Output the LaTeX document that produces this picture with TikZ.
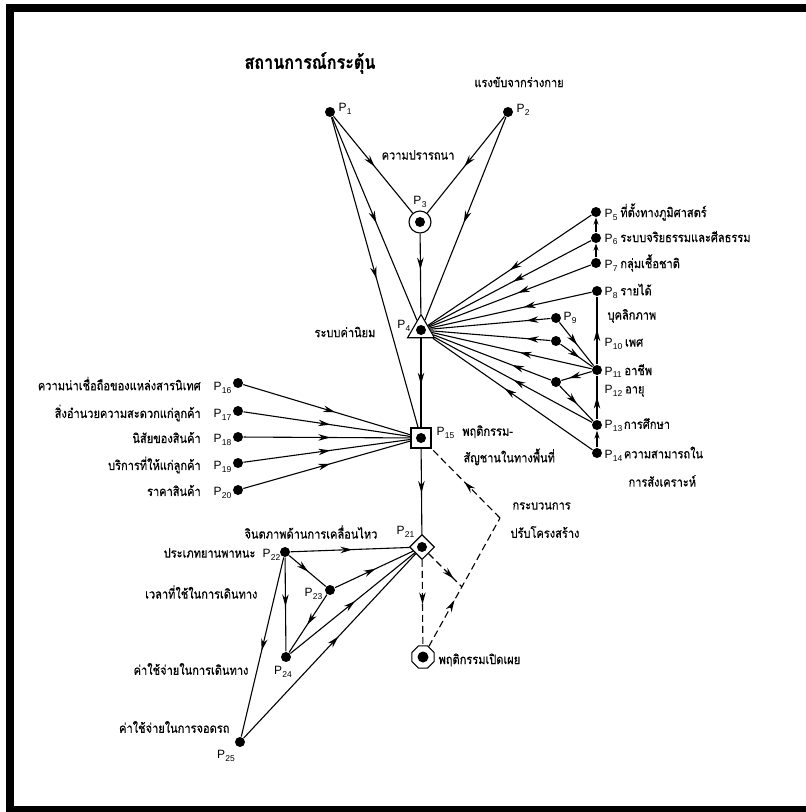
\documentclass[tikz,border=0pt]{standalone}
\usepackage{fontspec}
\setmainfont{Liberation Sans}
\newfontfamily\thai[Script=Thai,FakeStretch=0.85,FakeBold=0.6]{Loma}
\usetikzlibrary{shapes.geometric,arrows.meta,decorations.markings}

\newcommand\pn[1]{{\rmfamily\fontsize{12}{14}\selectfont P\kern.3pt\raisebox{-0.45ex}{\fontsize{8.5}{9}\selectfont #1}}}
\newcommand\thtext[1]{{\thai\fontsize{13}{15}\selectfont #1}}

\begin{document}
\begin{tikzpicture}[x=1pt,y=-1pt,line width=1.1pt,
  dot/.style={circle,fill,inner sep=0pt,minimum size=10pt},
  hole/.style={draw,inner sep=0pt},
  tx/.style={inner sep=0pt,font=\thai\fontsize{13}{15}\selectfont},
  pl/.style={inner sep=0pt},
  flow/.style={postaction={decorate},decoration={markings,
      mark=at position #1 with {\arrow{Stealth[length=12pt,width=6.5pt]}}}},
  flow/.default=0.52,
  feed/.style={dash pattern=on 7pt off 4pt}]

  % frame round the figure
  \useasboundingbox (0,0) rectangle (806,812);
  \draw[line width=8pt] (10,8) rectangle (816,810);

  % stimuli, drives and desire:
  \node[tx,font=\thai\bfseries\fontsize{19}{21}\selectfont] (title) at (310,63) {สถานการณ์กระตุ้น};
  \node[tx] (drive) at (519,82) {แรงขับจากร่างกาย};
  \node[dot] (p1) at (330,112) {};
  \node[dot] (p2) at (508,112) {};
  \node[pl,anchor=west] (p1l) at (338,109) {\pn{1}};
  \node[pl,anchor=west] (p2l) at (516,110) {\pn{2}};
  \node[tx] (desire) at (418,155) {ความปรารถนา};

  \node[hole,circle,minimum size=22pt] (p3) at (420,222) {};
  \fill (p3.center) circle (5pt);
  \node[pl] (p3l) at (420,202) {\pn{3}};

  % value system:
  \node[hole,regular polygon,regular polygon sides=3,minimum size=31pt] (p4) at (421,330) {};
  \fill (p4.center) circle (5pt);
  \node[pl,anchor=east] (p4l) at (411,326) {\pn{4}};
  \node[tx] (values) at (345,332) {ระบบค่านิยม};

  % spatial cognitive behaviour:
  \node[hole,rectangle,minimum size=20pt] (p15) at (421,438) {};
  \fill (p15.center) circle (5pt);
  \node[pl,anchor=west] (p15l) at (436,432) {\pn{15}\hspace{8pt}\thtext{พฤติกรรม-}};
  \node[tx,anchor=west] (p15m) at (463,457) {สัญชานในทางพื้นที่};

  % personal factors on the right
  \node[dot] (p5) at (596,212) {};
  \node[dot] (p6) at (596,238) {};
  \node[dot] (p7) at (596,263) {};
  \node[dot] (p8) at (597,291) {};
  \node[dot] (p9) at (556,318) {};
  \node[dot] (q1) at (556,341) {};
  \node[dot] (p11) at (597,370) {};
  \node[dot] (q2) at (556,382) {};
  \node[dot] (p13) at (597,425) {};
  \node[dot] (p14) at (597,453) {};

  \node[pl,anchor=west] (p5l) at (604,212) {\pn{5}\ \thtext{ที่ตั้งทางภูมิศาสตร์}};
  \node[pl,anchor=west] (p6l) at (604,238) {\pn{6}\ \thtext{ระบบจริยธรรมและศีลธรรม}};
  \node[pl,anchor=west] (p7l) at (604,263) {\pn{7}\ \thtext{กลุ่มเชื้อชาติ}};
  \node[pl,anchor=west] (p8l) at (604,291) {\pn{8}\ \thtext{รายได้}};
  \node[pl,anchor=west] (p9l) at (563,318) {\pn{9}};
  \node[tx,anchor=west] (pers) at (607,316) {บุคลิกภาพ};
  \node[pl,anchor=west] (p10l) at (604,344) {\pn{10}\ \thtext{เพศ}};
  \node[pl,anchor=west] (p11l) at (604,371) {\pn{11}\ \thtext{อาชีพ}};
  \node[pl,anchor=west] (p12l) at (604,391) {\pn{12}\ \thtext{อายุ}};
  \node[pl,anchor=west] (p13l) at (604,425) {\pn{13}\,\thtext{การศึกษา}};
  \node[pl,anchor=west] (p14l) at (604,454) {\pn{14}\,\thtext{ความสามารถใน}};
  \node[tx,anchor=west] (synth) at (628,481) {การสังเคราะห์};

  \draw[flow=0.5] (p5) -- (p4);
  \draw[flow=0.48] (p6) -- (p4);
  \draw[flow=0.45] (p7) -- (p4);
  \draw[flow=0.42] (p8) -- (p4);
  \draw[flow=0.2] (p9) -- (p4);
  \draw[flow=0.2] (q1) -- (p4);
  \draw[flow=0.45] (p11) -- (p4);
  \draw[flow=0.33] (q2) -- (p4);
  \draw[flow=0.5] (p13) -- (p4);
  \draw[flow=0.55] (p14) -- (p4);

  \draw[-{Stealth[length=7pt,width=5pt]}] (p6) -- (p5);
  \draw[-{Stealth[length=7pt,width=5pt]}] (p7) -- (p6);
  \draw[flow] (p11) -- (p8);
  \draw[flow] (p13) -- (p11);
  \draw[-{Stealth[length=8pt,width=5pt]}] (p14) -- (p13);
  \draw[flow] (p9) -- (p11);
  \draw[flow=0.6] (q1) -- (p11);
  \draw[flow=0.75] (p11) -- (q2);
  \draw[flow] (q2) -- (p13);

  % arrows from the top
  \draw[flow] (p1) -- (p3);
  \draw[flow] (p2) -- (p3);
  \draw[flow] (p1) -- (p4);
  \draw[flow] (p2) -- (p4);
  \draw[flow=0.45] (p3) -- (p4);
  \draw[flow] (p1) -- (p15);

  % situational factors on the left
  \node[dot] (p16) at (238,383) {};
  \node[dot] (p17) at (238,411) {};
  \node[dot] (p18) at (238,437) {};
  \node[dot] (p19) at (238,463) {};
  \node[dot] (p20) at (238,490) {};
  \node[tx,anchor=east] (p16l) at (232,385) {ความน่าเชื่อถือของแหล่งสารนิเทศ\hspace{13pt}\pn{16}};
  \node[tx,anchor=east] (p17l) at (232,413) {สิ่งอำนวยความสะดวกแก่ลูกค้า\hspace{13pt}\pn{17}};
  \node[tx,anchor=east] (p18l) at (232,439) {นิสัยของสินค้า\hspace{13pt}\pn{18}};
  \node[tx,anchor=east] (p19l) at (232,465) {บริการที่ให้แก่ลูกค้า\hspace{13pt}\pn{19}};
  \node[tx,anchor=east] (p20l) at (232,492) {ราคาสินค้า\hspace{13pt}\pn{20}};

  \draw[flow=0.55] (p16) -- (p15);
  \draw[flow=0.52] (p17) -- (p15);
  \draw[flow=0.52] (p18) -- (p15);
  \draw[flow=0.52] (p19) -- (p15);
  \draw[flow=0.52] (p20) -- (p15);
  \draw[flow] (p4) -- (p15);

  % mobility image and travel factors
  \node[hole,diamond,minimum size=25pt] (p21) at (422,547) {};
  \fill (p21.center) circle (5pt);
  \node[pl,anchor=west] (p21l) at (396,532) {\pn{21}};
  \node[tx,anchor=east] (image) at (378,532) {จินตภาพด้านการเคลื่อนไหว};
  \draw[flow] (p15) -- (p21);

  \node[dot] (p22) at (285,552) {};
  \node[dot] (p23) at (330,590) {};
  \node[dot] (p24) at (286,657) {};
  \node[dot] (p25) at (240,742) {};
  \node[pl,anchor=east] (p22l) at (281,555) {\pn{22}};
  \node[pl,anchor=east] (p23l) at (323,594) {\pn{23}};
  \node[pl] (p24l) at (283,672) {\pn{24}};
  \node[pl] (p25l) at (226,756) {\pn{25}};
  \node[tx,anchor=east] (vehicle) at (256,553) {ประเภทยานพาหนะ};
  \node[tx,anchor=east] (time) at (258,592) {เวลาที่ใช้ในการเดินทาง};
  \node[tx,anchor=east] (cost) at (249,669) {ค่าใช้จ่ายในการเดินทาง};
  \node[tx,anchor=east] (park) at (230,727) {ค่าใช้จ่ายในการจอดรถ};

  \draw[flow] (p22) -- (p21);
  \draw[flow] (p22) -- (p23);
  \draw[flow] (p22) -- (p24);
  \draw[flow] (p22) -- (p25);
  \draw[flow] (p23) -- (p21);
  \draw[flow] (p23) -- (p24);
  \draw[flow] (p24) -- (p21);
  \draw[flow=0.55] (p25) -- (p21);

  % overt behaviour and the restructuring loop:
  \node[hole,regular polygon,regular polygon sides=8,minimum size=24pt] (overt) at (423,657) {};
  \fill (overt.center) circle (5.5pt);
  \node[tx,anchor=west] (overtl) at (438,660) {พฤติกรรมเปิดเผย};
  \node[tx,anchor=west] (restr1) at (512,506) {กระบวนการ};
  \node[tx,anchor=west] (restr2) at (510,532) {ปรับโครงสร้าง};

  \coordinate (bend) at (500,518);
  \coordinate (meet) at (462,587);
  \draw[feed,flow] (p21) -- (overt);
  \draw[feed,flow=0.36] (overt) -- (bend);
  \draw[feed,flow] (bend) -- (p15);
  \draw[feed,flow=0.75] (p21) -- (meet);

\end{tikzpicture}
\end{document}
